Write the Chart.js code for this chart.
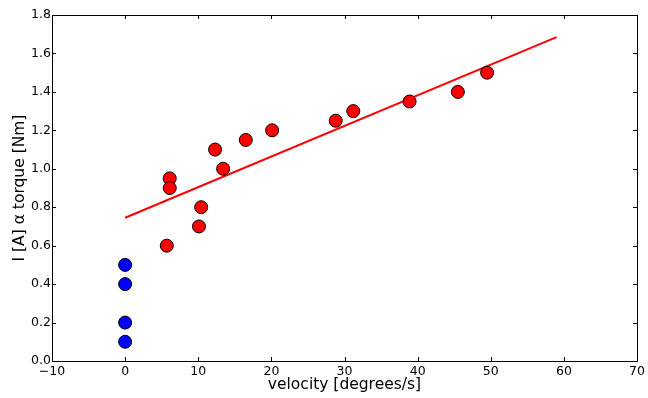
<!DOCTYPE html>
<html>
<head>
<meta charset="utf-8">
<script src="https://cdn.jsdelivr.net/npm/chart.js@4"></script>
<style>
  body { margin: 0; background: #fff; }
  #wrap { width: 648px; height: 398px; }
</style>
</head>
<body>
<div id="wrap"><canvas id="chart1"></canvas></div>
<script>
// measured points (red) and stalled points (blue)
var movingVel = [5.7, 6.1, 6.1, 10.1, 10.4, 12.3, 13.4, 16.5, 20.1, 28.8, 31.2, 38.9, 45.5, 49.5];
var movingTorque = [0.6, 0.95, 0.9, 0.7, 0.8, 1.1, 1.0, 1.15, 1.2, 1.25, 1.3, 1.35, 1.4, 1.5];
var stallVel = [0, 0, 0, 0];
var stallTorque = [0.1, 0.2, 0.4, 0.5];
// fitted line end points
var fitVel = [0, 59];
var fitTorque = [0.745, 1.685];

var xTicks = [-10, 0, 10, 20, 30, 40, 50, 60, 70];
var yTicks = [0.0, 0.2, 0.4, 0.6, 0.8, 1.0, 1.2, 1.4, 1.6, 1.8];

function toPoints(xs, ys){
    var pts = [];
    for (var i = 0; i < xs.length; i++){
        pts.push({x: xs[i], y: ys[i]});
    }
    return pts;
}

// frame + inward ticks, matplotlib classic look
var framePlugin = {
    id: 'frame',
    afterDraw: function(chart){
        var ctx = chart.ctx;
        var a = chart.chartArea;
        var xs = chart.scales.x, ys = chart.scales.y;
        ctx.save();
        ctx.strokeStyle = '#000';
        ctx.lineWidth = 1;
        ctx.strokeRect(a.left + 0.5, a.top + 0.5, a.right - a.left, a.bottom - a.top);
        ctx.beginPath();
        xTicks.forEach(function(v){
            var px = Math.round(xs.getPixelForValue(v)) + 0.5;
            ctx.moveTo(px, a.bottom); ctx.lineTo(px, a.bottom - 4);
            ctx.moveTo(px, a.top); ctx.lineTo(px, a.top + 4);
        });
        yTicks.forEach(function(v){
            var py = Math.round(ys.getPixelForValue(v)) + 0.5;
            ctx.moveTo(a.left, py); ctx.lineTo(a.left + 4, py);
            ctx.moveTo(a.right, py); ctx.lineTo(a.right - 4, py);
        });
        ctx.stroke();
        ctx.restore();
    }
};

Chart.defaults.font.family = "'DejaVu Sans', sans-serif";
Chart.defaults.color = '#000';

const chart1 = document.getElementById("chart1");
new Chart(chart1, {
    type: 'scatter',
    data: {
        datasets: [{
            label: 'fit',
            data: toPoints(fitVel, fitTorque),
            showLine: true,
            borderColor: '#ff0000',
            borderWidth: 2,
            pointRadius: 0,
            order: 3
        }, {
            label: 'moving',
            data: toPoints(movingVel, movingTorque),
            backgroundColor: '#ff0000',
            borderColor: '#000',
            borderWidth: 1,
            pointRadius: 6.5,
            order: 1
        }, {
            label: 'stall',
            data: toPoints(stallVel, stallTorque),
            backgroundColor: '#0000ff',
            borderColor: '#000',
            borderWidth: 1,
            pointRadius: 6.5,
            order: 2
        }]
    },
    options: {
        responsive: true,
        maintainAspectRatio: false,
        animation: false,
        layout: { padding: { top: 15, right: 11, left: 0, bottom: 0 } },
        plugins: {
            legend: { display: false },
            tooltip: { enabled: false }
        },
        scales: {
            x: {
                type: 'linear',
                min: -10, max: 70,
                afterFit: function(s){ s.height = 37; },
                afterBuildTicks: function(s){ s.ticks = xTicks.map(function(v){ return {value: v}; }); },
                grid: { display: false, drawTicks: false },
                border: { display: false },
                ticks: {
                    padding: 3,
                    font: { size: 12.5 },
                    maxRotation: 0,
                    callback: function(v){ return v < 0 ? '\u2212' + Math.abs(v) : String(v); }
                },
                title: {
                    display: true,
                    text: 'velocity [degrees/s]',
                    font: { size: 15.5 },
                    padding: { top: 0, bottom: 4 }
                }
            },
            y: {
                type: 'linear',
                min: 0, max: 1.8,
                afterFit: function(s){ s.width = 52; },
                afterBuildTicks: function(s){ s.ticks = yTicks.map(function(v){ return {value: v}; }); },
                grid: { display: false, drawTicks: false },
                border: { display: false },
                ticks: {
                    padding: 1,
                    font: { size: 12.5 },
                    callback: function(v){ return Number(v).toFixed(1); }
                },
                title: {
                    display: true,
                    text: 'I [A] \u03b1 torque [Nm]',
                    font: { size: 15.5 },
                    padding: { top: 11, bottom: 0 }
                }
            }
        }
    },
    plugins: [framePlugin]
});
</script>
</body>
</html>
